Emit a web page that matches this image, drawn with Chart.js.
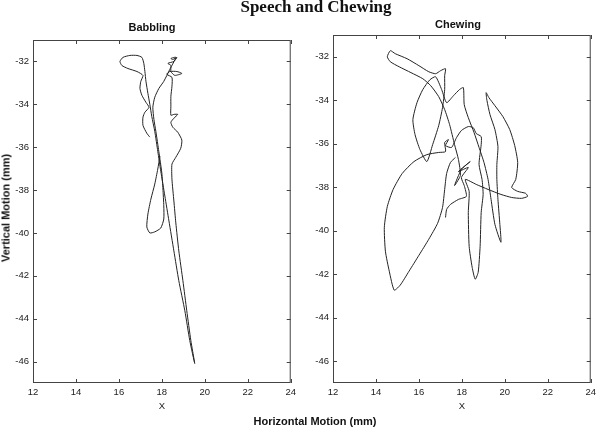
<!DOCTYPE html>
<html>
<head>
<meta charset="utf-8">
<script src="https://cdn.jsdelivr.net/npm/chart.js@4.4.1/dist/chart.umd.min.js"></script>
<style>
  body { margin: 0; background: #fff; }
  #wrap { position: relative; width: 600px; height: 427px; overflow: hidden; background: #fff; }
  canvas { position: absolute; top: 0; }
  .txt { position: absolute; white-space: nowrap; color: #111; line-height: 1; }
  .sans { font-family: 'Liberation Sans', Arial, sans-serif; font-weight: bold; font-size: 11px; }
</style>
</head>
<body>
<div id="wrap">
  <canvas id="babbling" width="300" height="427" style="left:0"></canvas>
  <canvas id="chewing" width="300" height="427" style="left:300px"></canvas>
  <div class="txt" id="mainTitle" style="font-family:'Liberation Serif','Times New Roman',serif;font-weight:bold;font-size:17px;left:316px;top:-2px;transform:translateX(-50%)">Speech and Chewing</div>
  <div class="txt sans" style="left:152px;top:22px;transform:translateX(-50%)">Babbling</div>
  <div class="txt sans" style="left:458px;top:19px;transform:translateX(-50%)">Chewing</div>
  <div class="txt sans" style="left:315px;top:416px;transform:translateX(-50%)">Horizontal Motion (mm)</div>
  <div class="txt sans" style="left:6px;top:208px;transform:translate(-50%,-50%) rotate(-90deg)">Vertical Motion (mm)</div>
</div>
<script>
// Chart.js configuration
Chart.defaults.font.family = "'Liberation Sans', Arial, sans-serif";
Chart.defaults.color = '#222';
Chart.defaults.animation = false;

// Axis ticks (both panels)
const xTicks = [12, 14, 16, 18, 20, 22, 24];
const yTicks = [-46, -44, -42, -40, -38, -36, -34, -32];

// Babbling trajectory (mm)
const babblingX = [17.44, 17.30, 17.12, 17.12, 17.21, 17.40, 17.26, 17.07, 16.98, 17.02,
    17.12, 16.84, 16.42, 16.14, 16.05, 16.19, 16.51, 16.84, 17.07, 17.16,
    17.21, 17.26, 17.35, 17.44, 17.53, 17.67, 17.81, 17.95, 18.14, 18.33,
    18.56, 18.79, 19.07, 19.30, 19.53, 19.35, 19.16, 18.98, 18.79, 18.65,
    18.56, 18.47, 18.47, 18.65, 18.88, 18.93, 18.74, 18.51, 18.42, 18.56,
    18.74, 18.56, 18.42, 18.42, 18.42, 18.47, 18.47, 18.23, 18.37, 18.70,
    18.93, 18.60, 18.42, 18.42, 18.28, 18.56, 18.70, 18.51, 18.42, 18.65,
    18.37, 18.09, 17.86, 17.67, 17.58, 17.63, 17.72, 17.81, 17.91, 18.00,
    18.05, 18.09, 18.09, 17.95, 17.67, 17.44, 17.30, 17.35, 17.49, 17.67,
    17.81, 17.91];
const babblingY = [-35.53, -35.35, -34.98, -34.60, -34.37, -34.14, -33.91, -33.58, -33.26, -32.93,
    -32.65, -32.47, -32.33, -32.19, -32.00, -31.81, -31.72, -31.72, -31.81, -32.09,
    -32.47, -32.93, -33.49, -34.00, -34.56, -35.26, -36.19, -37.12, -38.28, -39.44,
    -40.84, -42.23, -43.63, -45.02, -46.09, -45.02, -43.63, -42.23, -40.84, -39.53,
    -38.51, -37.49, -36.79, -36.47, -36.05, -35.67, -35.30, -35.07, -34.84, -34.65,
    -34.47, -34.47, -34.51, -34.09, -33.63, -33.16, -32.74, -32.60, -32.47, -32.47,
    -32.56, -32.65, -32.47, -32.19, -32.09, -32.00, -31.81, -31.91, -31.86, -31.81,
    -32.37, -32.93, -33.26, -33.67, -34.14, -34.70, -35.26, -35.86, -36.56, -37.21,
    -37.95, -38.74, -39.35, -39.77, -39.95, -40.00, -39.72, -39.12, -38.42, -37.72,
    -37.02, -36.42];

// Chewing trajectory (mm)
const chewingX = [17.24, 17.29, 17.47, 17.84, 18.21, 18.11, 17.98, 18.30, 17.84, 18.39,
    17.98, 17.66, 17.93, 17.84, 17.66, 17.43, 17.20, 16.92, 16.55, 16.18,
    15.63, 15.08, 14.67, 14.53, 14.67, 14.90, 15.45, 16.00, 16.46, 16.78,
    17.01, 17.24, 17.20, 17.20, 17.10, 16.92, 16.64, 16.37, 16.05, 15.82,
    15.72, 15.91, 16.18, 16.51, 16.78, 17.06, 17.29, 17.61, 17.89, 18.07,
    18.11, 18.30, 18.57, 18.80, 19.03, 19.22, 19.36, 19.54, 19.82, 19.77,
    19.68, 19.63, 19.63, 19.68, 19.54, 19.31, 19.17, 19.13, 19.26, 19.54,
    19.91, 20.23, 20.46, 20.60, 20.51, 20.32, 20.60, 20.97, 21.06, 20.78,
    20.32, 19.82, 19.22, 18.67, 18.16, 18.34, 18.30, 18.34, 18.48, 18.62,
    18.76, 18.85, 18.90, 18.99, 18.94, 18.80, 18.90, 18.90, 18.67, 18.53,
    18.30, 17.98, 17.75, 17.52, 17.24, 17.38, 17.20, 17.24, 16.92, 16.37,
    15.77, 15.22, 14.80, 14.53, 14.39, 14.44, 14.62, 14.85, 15.13, 15.54,
    16.00, 16.46, 16.87, 17.10, 17.20, 17.29, 17.47, 17.70];
const chewingY = [-39.39, -39.02, -38.79, -38.56, -38.42, -37.92, -37.55, -37.09, -37.28, -36.82,
    -37.18, -37.92, -37.46, -36.72, -36.04, -35.12, -34.43, -33.83, -33.33, -33.01,
    -32.73, -32.46, -32.23, -32.00, -31.72, -31.86, -32.09, -32.41, -32.69, -32.78,
    -32.64, -32.55, -32.87, -33.51, -34.34, -35.17, -36.04, -36.82, -36.27, -35.58,
    -34.89, -34.11, -33.51, -33.06, -32.92, -33.51, -34.11, -33.79, -33.51, -33.42,
    -34.20, -34.80, -35.49, -36.17, -36.86, -37.64, -38.56, -39.71, -40.53, -39.71,
    -38.56, -37.64, -36.95, -36.13, -35.35, -34.66, -34.02, -33.65, -33.88, -34.25,
    -34.75, -35.35, -36.08, -36.86, -37.64, -38.01, -38.19, -38.28, -38.42, -38.51,
    -38.47, -38.33, -38.10, -37.87, -37.64, -38.19, -39.16, -40.72, -41.68, -42.23,
    -41.91, -40.72, -39.16, -38.33, -37.64, -36.95, -36.04, -35.67, -35.53, -35.26,
    -35.21, -35.39, -35.72, -36.17, -36.08, -35.81, -35.94, -36.36, -36.40, -36.50,
    -36.82, -37.37, -38.10, -38.88, -39.84, -40.94, -41.86, -42.73, -42.50, -41.86,
    -41.13, -40.39, -39.66, -38.93, -38.10, -37.37, -36.86, -36.63];

// Box around the axes with inward tick marks on all four sides
const boxTicks = {
    id: 'boxTicks',
    afterDatasetsDraw(chart) {
        const { ctx, chartArea: a, scales: { x, y } } = chart;
        const len = 4;
        ctx.save();
        ctx.strokeStyle = '#444';
        ctx.lineWidth = 1;
        ctx.strokeRect(a.left + 0.5, a.top + 0.5, a.right - a.left - 1, a.bottom - a.top - 1);
        ctx.beginPath();
        x.ticks.forEach(t => {
            const px = Math.round(x.getPixelForValue(t.value)) + 0.5;
            ctx.moveTo(px, a.bottom); ctx.lineTo(px, a.bottom - len);
            ctx.moveTo(px, a.top); ctx.lineTo(px, a.top + len);
        });
        y.ticks.forEach(t => {
            const py = Math.round(y.getPixelForValue(t.value)) + 0.5;
            ctx.moveTo(a.left, py); ctx.lineTo(a.left + len, py);
            ctx.moveTo(a.right, py); ctx.lineTo(a.right - len, py);
        });
        ctx.stroke();
        ctx.restore();
    }
};

function makePanel(id, xs, ys, pad) {
    const points = xs.map((v, i) => ({ x: v, y: ys[i] }));
    const ctx = document.getElementById(id).getContext('2d');
    return new Chart(ctx, {
        type: 'scatter',
        data: {
            datasets: [{
                data: points,
                showLine: true,
                borderColor: '#222',
                borderWidth: 1,
                pointRadius: 0,
                tension: 0.2
            }]
        },
        options: {
            responsive: false,
            layout: { padding: pad },
            plugins: { legend: { display: false }, tooltip: { enabled: false } },
            scales: {
                x: {
                    type: 'linear',
                    min: 12,
                    max: 24,
                    afterBuildTicks: s => { s.ticks = xTicks.map(v => ({ value: v })); },
                    afterFit: s => { s.height = 29; },
                    grid: { display: false, drawTicks: false },
                    border: { display: false },
                    ticks: { font: { size: 9.5 }, padding: 4, maxRotation: 0 },
                    title: { display: true, text: 'X', font: { size: 9.5 }, padding: 0, color: '#222' }
                },
                y: {
                    type: 'linear',
                    min: -47,
                    max: -31,
                    afterBuildTicks: s => { s.ticks = yTicks.map(v => ({ value: v })); },
                    afterFit: s => { s.width = 33; },
                    grid: { display: false, drawTicks: false },
                    border: { display: false },
                    ticks: { font: { size: 9.5 }, padding: 4 }
                }
            }
        },
        plugins: [boxTicks]
    });
}

makePanel('babbling', babblingX, babblingY, { left: 0, top: 40, right: 9, bottom: 15 });
makePanel('chewing', chewingX, chewingY, { left: 0, top: 35, right: 6, bottom: 15 });
</script>
</body>
</html>
